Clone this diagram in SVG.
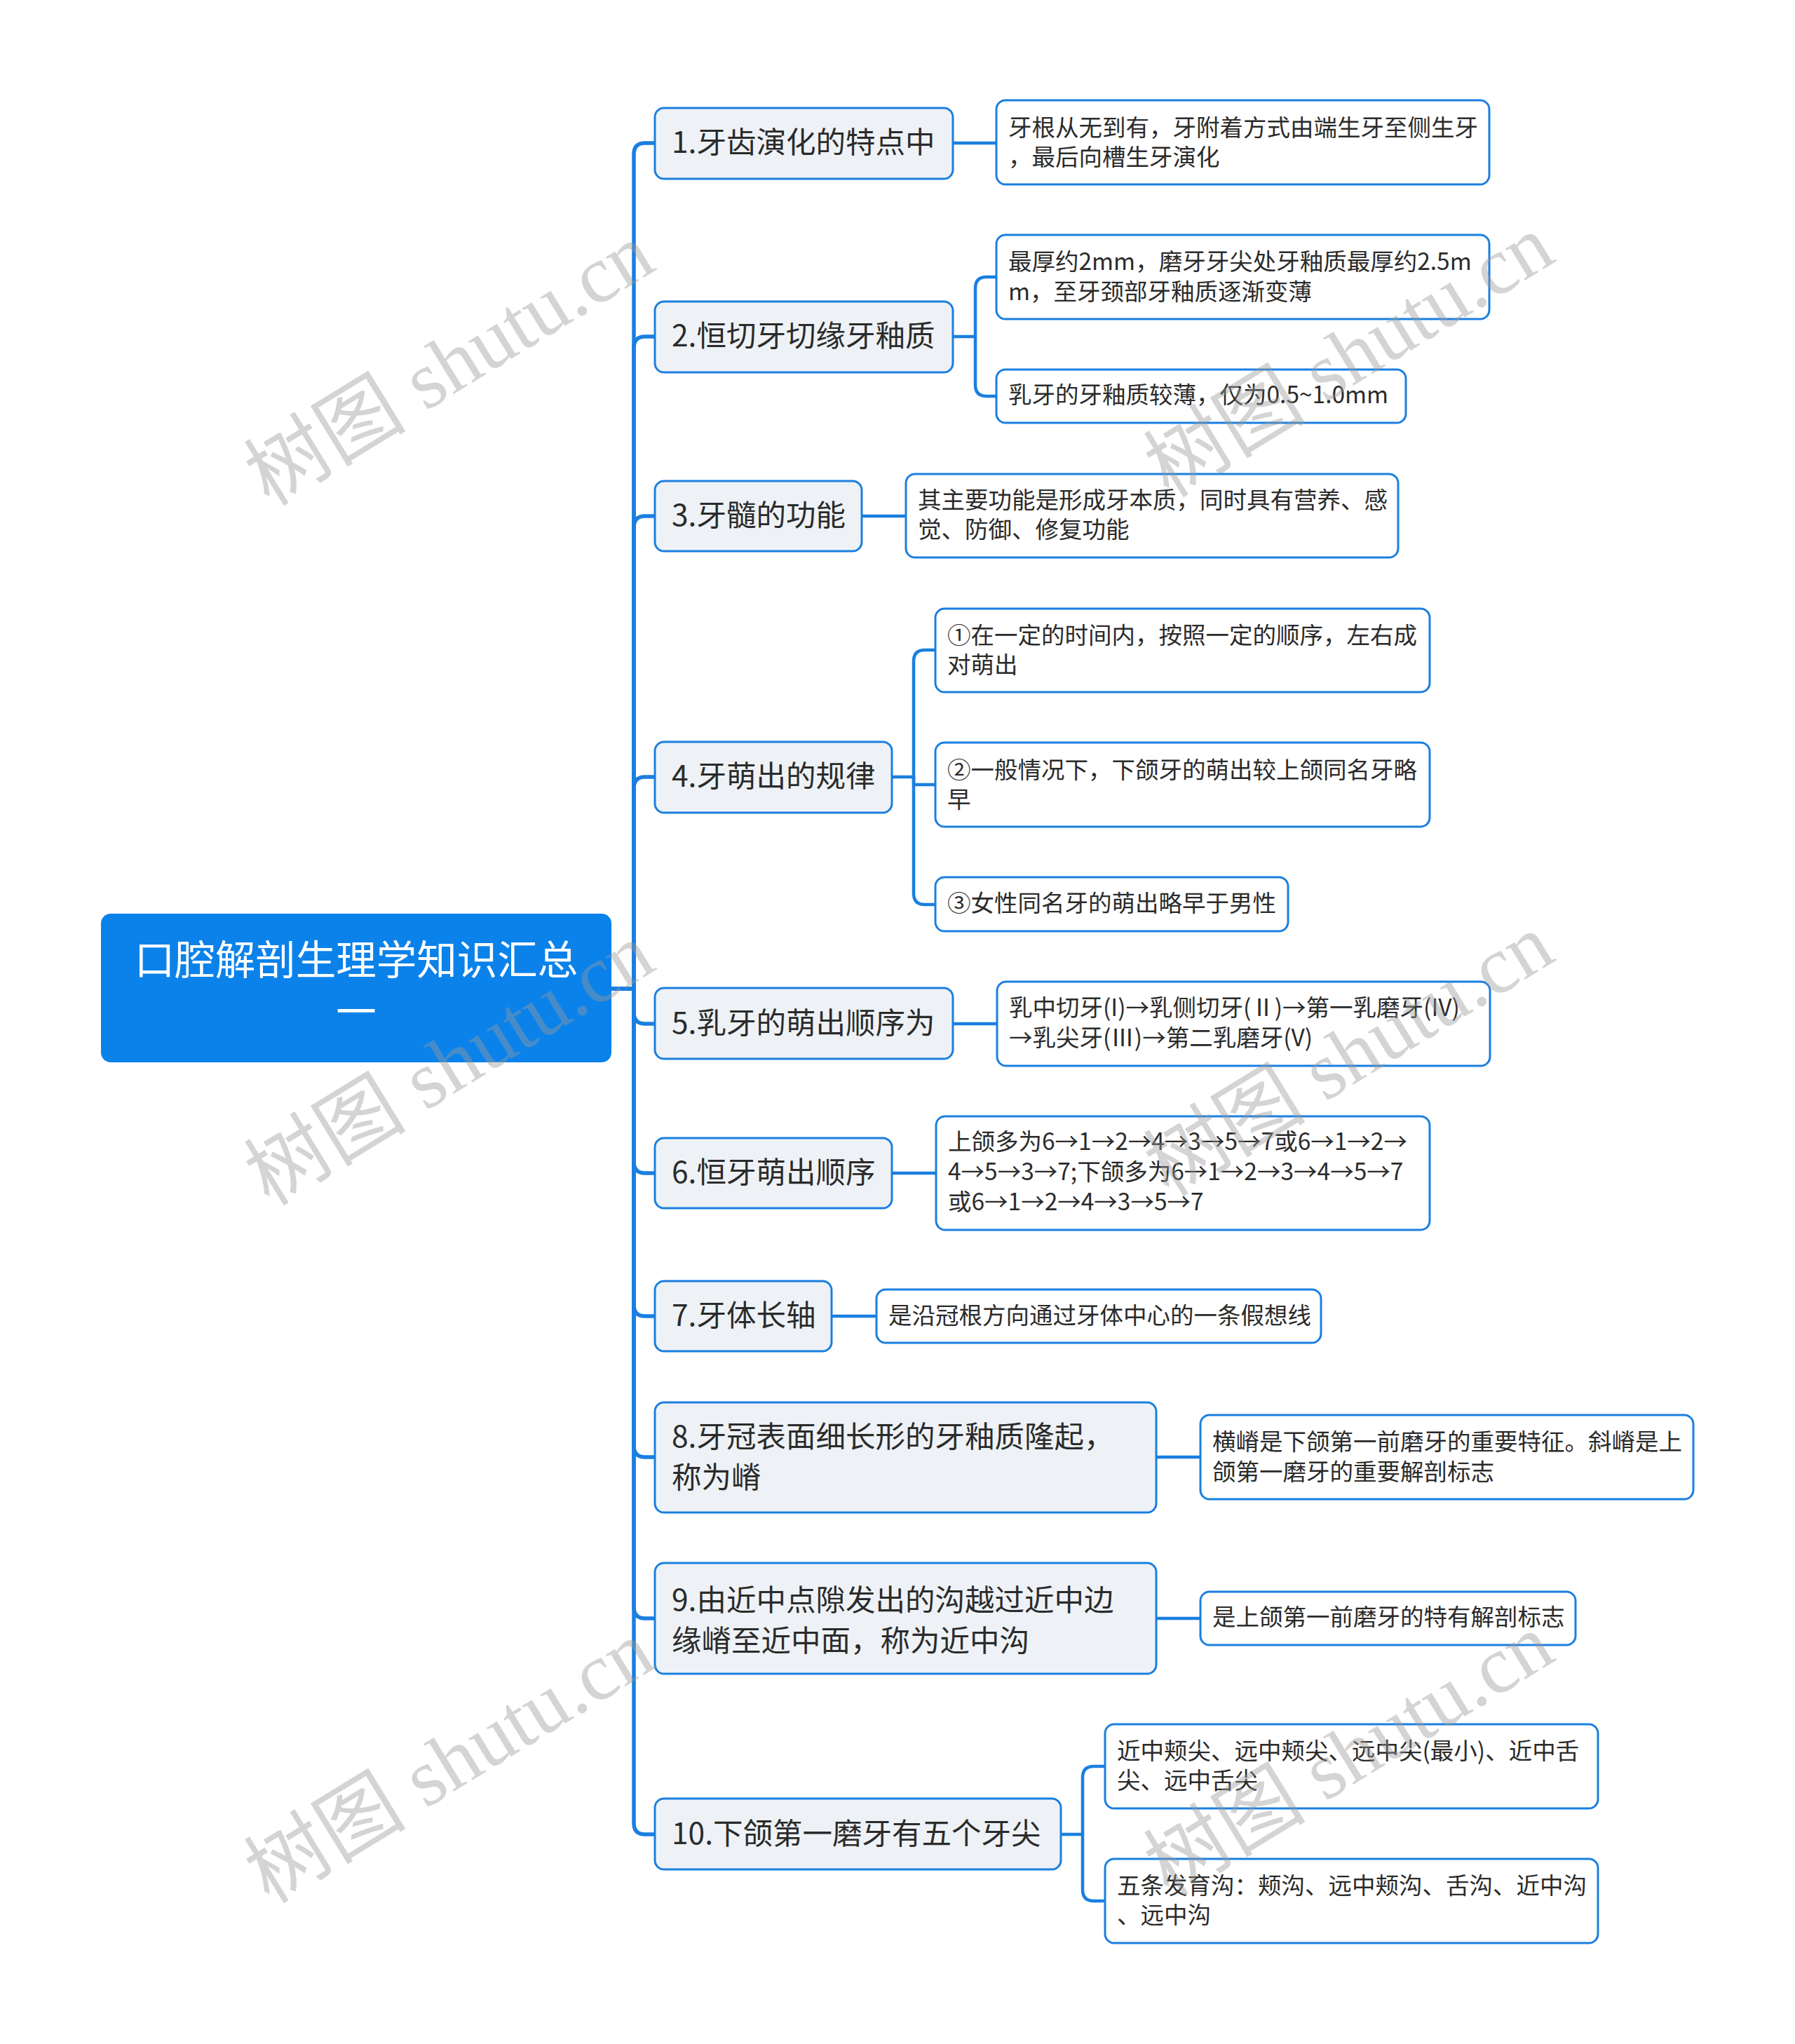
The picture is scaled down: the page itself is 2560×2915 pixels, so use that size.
<svg xmlns="http://www.w3.org/2000/svg" width="2560" height="2915" viewBox="0 0 2560 2915">
<style>
.t{font-family:"Noto Sans CJK SC","Microsoft YaHei",sans-serif;fill:#2b2b2b;dominant-baseline:central;transform:translateY(-5px)}
.root rect{fill:#0b82ea}
.root text{font-size:57.5px;fill:#fff;text-anchor:middle}
.l1 rect{fill:#eef2f6;stroke:#1a7fe0;stroke-width:3}
.l1 text{font-size:42.5px}
.l2 rect{fill:#fff;stroke:#1a7fe0;stroke-width:3}
.l2 text{font-size:33.5px}
.c path{fill:none;stroke:#1a7fe0;stroke-linecap:round;stroke-linejoin:round}
.c1 path{stroke-width:5.5}
.c2 path{stroke-width:4.5}
.wm{font-family:"Liberation Serif","Noto Sans CJK SC",serif;font-size:116px;fill:#9a9a9a;opacity:0.42;text-anchor:middle;dominant-baseline:central}
</style>
<rect width="2560" height="2915" fill="#fff"/>
<g id="connectors" class="c">
<g class="c1">
<path d="M872 1410H904V220Q904 204 920 204H934"/>
<path d="M872 1410H904V496Q904 480 920 480H934"/>
<path d="M872 1410H904V752Q904 736 920 736H934"/>
<path d="M872 1410H904V1124Q904 1108 920 1108H934"/>
<path d="M872 1410H904V1444Q904 1460 920 1460H934"/>
<path d="M872 1410H904V1657Q904 1673 920 1673H934"/>
<path d="M872 1410H904V1861Q904 1877 920 1877H934"/>
<path d="M872 1410H904V2062Q904 2078 920 2078H934"/>
<path d="M872 1410H904V2292Q904 2308 920 2308H934"/>
<path d="M872 1410H904V2600Q904 2616 920 2616H934"/>
</g>
<g class="c2">
<path d="M1359 204H1421"/>
<path d="M1359 480H1391V411Q1391 395 1407 395H1421"/>
<path d="M1391 480V549Q1391 565 1407 565H1421"/>
<path d="M1229 736H1292"/>
<path d="M1272 1108H1303V943Q1303 927 1319 927H1334"/>
<path d="M1303 1108V1119H1334"/>
<path d="M1303 1108V1274Q1303 1290 1319 1290H1334"/>
<path d="M1359 1460H1422"/>
<path d="M1272 1673H1335"/>
<path d="M1186 1877H1250"/>
<path d="M1649 2078H1712"/>
<path d="M1649 2308H1712"/>
<path d="M1513 2616H1544V2535Q1544 2519 1560 2519H1576"/>
<path d="M1544 2616V2695Q1544 2711 1560 2711H1576"/>
</g>
</g>
<g id="root" class="root">
<rect x="144" y="1303" width="728" height="212" rx="14"/>
<text class="t" x="508" y="1370">口腔解剖生理学知识汇总</text>
<text class="t" x="508" y="1444">一</text>
</g>
<g id="n1" class="l1"><rect x="934" y="154" width="425" height="101" rx="13"/><text class="t" x="958" y="204">1.牙齿演化的特点中</text></g>
<g id="n2" class="l1"><rect x="934" y="430" width="425" height="101" rx="13"/><text class="t" x="958" y="480">2.恒切牙切缘牙釉质</text></g>
<g id="n3" class="l1"><rect x="934" y="686" width="295" height="100" rx="13"/><text class="t" x="958" y="736">3.牙髓的功能</text></g>
<g id="n4" class="l1"><rect x="934" y="1058" width="338" height="101" rx="13"/><text class="t" x="958" y="1108">4.牙萌出的规律</text></g>
<g id="n5" class="l1"><rect x="934" y="1409" width="425" height="101" rx="13"/><text class="t" x="958" y="1460">5.乳牙的萌出顺序为</text></g>
<g id="n6" class="l1"><rect x="934" y="1623" width="338" height="100" rx="13"/><text class="t" x="958" y="1673">6.恒牙萌出顺序</text></g>
<g id="n7" class="l1"><rect x="934" y="1827" width="252" height="100" rx="13"/><text class="t" x="958" y="1877">7.牙体长轴</text></g>
<g id="n8" class="l1"><rect x="934" y="2000" width="715" height="157" rx="13"/><text class="t" x="958" y="2050">8.牙冠表面细长形的牙釉质隆起，</text><text class="t" x="958" y="2108">称为嵴</text></g>
<g id="n9" class="l1"><rect x="934" y="2229" width="715" height="158" rx="13"/><text class="t" x="958" y="2283">9.由近中点隙发出的沟越过近中边</text><text class="t" x="958" y="2341">缘嵴至近中面，称为近中沟</text></g>
<g id="n10" class="l1"><rect x="934" y="2565" width="579" height="101" rx="13"/><text class="t" x="958" y="2616">10.下颌第一磨牙有五个牙尖</text></g>
<g id="n1a" class="l2"><rect x="1421" y="143" width="703" height="120" rx="13"/><text class="t" x="1438" y="184">牙根从无到有，牙附着方式由端生牙至侧生牙</text><text class="t" x="1438" y="226">，最后向槽生牙演化</text></g>
<g id="n2a" class="l2"><rect x="1421" y="335" width="703" height="120" rx="13"/><text class="t" x="1438" y="375">最厚约2mm，磨牙牙尖处牙釉质最厚约2.5m</text><text class="t" x="1438" y="418">m，至牙颈部牙釉质逐渐变薄</text></g>
<g id="n2b" class="l2"><rect x="1421" y="527" width="584" height="76" rx="13"/><text class="t" x="1438" y="565">乳牙的牙釉质较薄，仅为0.5~1.0mm</text></g>
<g id="n3a" class="l2"><rect x="1292" y="676" width="702" height="119" rx="13"/><text class="t" x="1309" y="715">其主要功能是形成牙本质，同时具有营养、感</text><text class="t" x="1309" y="757">觉、防御、修复功能</text></g>
<g id="n4a" class="l2"><rect x="1334" y="868" width="705" height="119" rx="13"/><text class="t" x="1351" y="908">①在一定的时间内，按照一定的顺序，左右成</text><text class="t" x="1351" y="950">对萌出</text></g>
<g id="n4b" class="l2"><rect x="1334" y="1059" width="705" height="120" rx="13"/><text class="t" x="1351" y="1100">②一般情况下，下颌牙的萌出较上颌同名牙略</text><text class="t" x="1351" y="1142">早</text></g>
<g id="n4c" class="l2"><rect x="1334" y="1251" width="503" height="77" rx="13"/><text class="t" x="1351" y="1290">③女性同名牙的萌出略早于男性</text></g>
<g id="n5a" class="l2"><rect x="1422" y="1400" width="703" height="120" rx="13"/><text class="t" x="1439" y="1439">乳中切牙(I)→乳侧切牙(Ⅱ)→第一乳磨牙(IV)</text><text class="t" x="1439" y="1482">→乳尖牙(Ⅲ)→第二乳磨牙(V)</text></g>
<g id="n6a" class="l2"><rect x="1335" y="1592" width="704" height="162" rx="13"/><text class="t" x="1352" y="1630">上颌多为6→1→2→4→3→5→7或6→1→2→</text><text class="t" x="1352" y="1673">4→5→3→7;下颌多为6→1→2→3→4→5→7</text><text class="t" x="1352" y="1716">或6→1→2→4→3→5→7</text></g>
<g id="n7a" class="l2"><rect x="1250" y="1839" width="634" height="76" rx="13"/><text class="t" x="1267" y="1878">是沿冠根方向通过牙体中心的一条假想线</text></g>
<g id="n8a" class="l2"><rect x="1712" y="2018" width="703" height="120" rx="13"/><text class="t" x="1729" y="2058">横嵴是下颌第一前磨牙的重要特征。斜嵴是上</text><text class="t" x="1729" y="2101">颌第一磨牙的重要解剖标志</text></g>
<g id="n9a" class="l2"><rect x="1712" y="2270" width="535" height="76" rx="13"/><text class="t" x="1729" y="2308">是上颌第一前磨牙的特有解剖标志</text></g>
<g id="n10a" class="l2"><rect x="1576" y="2459" width="703" height="120" rx="13"/><text class="t" x="1593" y="2499">近中颊尖、远中颊尖、远中尖(最小)、近中舌</text><text class="t" x="1593" y="2541">尖、远中舌尖</text></g>
<g id="n10b" class="l2"><rect x="1576" y="2651" width="703" height="120" rx="13"/><text class="t" x="1593" y="2691">五条发育沟：颊沟、远中颊沟、舌沟、近中沟</text><text class="t" x="1593" y="2733">、远中沟</text></g>
<g id="watermarks">
<text class="wm" x="641" y="520" transform="rotate(-31.5 641 520)">树图 shutu.cn</text>
<text class="wm" x="1924" y="508" transform="rotate(-31.5 1924 508)">树图 shutu.cn</text>
<text class="wm" x="641" y="1518" transform="rotate(-31.5 641 1518)">树图 shutu.cn</text>
<text class="wm" x="1924" y="1505" transform="rotate(-31.5 1924 1505)">树图 shutu.cn</text>
<text class="wm" x="641" y="2513" transform="rotate(-31.5 641 2513)">树图 shutu.cn</text>
<text class="wm" x="1924" y="2503" transform="rotate(-31.5 1924 2503)">树图 shutu.cn</text>
</g>
</svg>
